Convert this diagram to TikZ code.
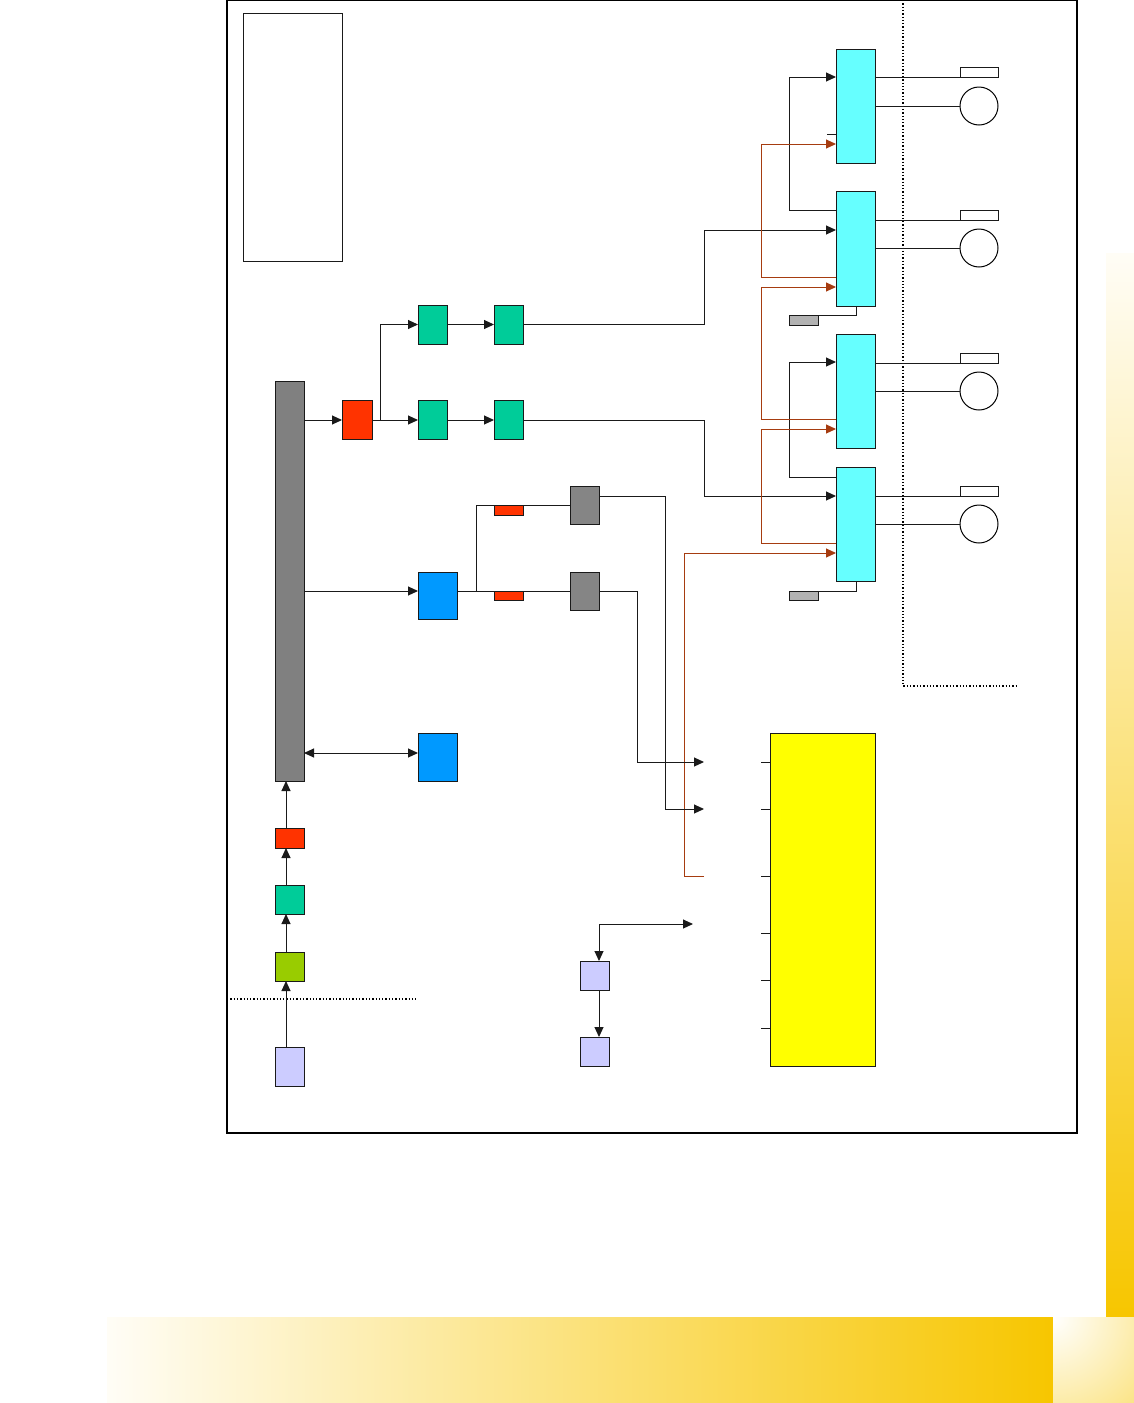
\documentclass[tikz,border=0pt]{standalone}
\usetikzlibrary{arrows.meta}
\definecolor{busgray}{HTML}{808080}
\definecolor{boxgray}{HTML}{858585}
\definecolor{ltgray}{HTML}{B2B2B2}
\definecolor{redbox}{HTML}{FF3300}
\definecolor{greenbox}{HTML}{00CC99}
\definecolor{cyanbox}{HTML}{66FFFF}
\definecolor{bluebox}{HTML}{0099FF}
\definecolor{yellowbox}{HTML}{FFFF00}
\definecolor{lavbox}{HTML}{CCCCFF}
\definecolor{ygbox}{HTML}{99CC00}
\definecolor{ln}{HTML}{1A1A1A}
\definecolor{orangeln}{HTML}{A63C10}
\definecolor{gold}{HTML}{F7C600}
\definecolor{pale}{HTML}{FFFDF6}
\newcommand\mybox[6]{%
  \pgfmathsetmacro\mybxw{#4-#2}\pgfmathsetmacro\mybxh{#5-#3}%
  \pgfmathsetmacro\mybxcx{(#2+#4)/2}\pgfmathsetmacro\mybxcy{(#3+#5)/2}%
  \node[bxs,fill=#6,minimum width=\mybxw pt,minimum height=\mybxh pt] (#1) at (\mybxcx,\mybxcy) {};}
\begin{document}
\begin{tikzpicture}[x=1pt,y=-1pt,
  bxs/.style={draw=ln,line width=1pt,inner sep=0pt,outer sep=0pt,rectangle},
  wire/.style={draw=ln,line width=1pt},
  arr/.style={wire,-{Triangle[length=10pt,width=9pt]}},
  darr/.style={wire,{Triangle[length=10pt,width=9pt]}-{Triangle[length=10pt,width=9pt]}},
  owire/.style={draw=orangeln,line width=1pt},
  oarr/.style={owire,-{Triangle[length=10pt,width=9pt]}},
  dotline/.style={draw=black,line width=1.3pt,dotted}]
\useasboundingbox (0,0) rectangle (1134,1403);
\fill[white] (0,0) rectangle (1134,1403);
% decorative gradients
\shade[top color=pale,bottom color=gold] (1106,253) rectangle (1134,1317);
\shade[left color=pale,right color=gold] (107,1317) rectangle (1053,1403);
\begin{scope}
\clip (1053,1317) rectangle (1134,1403);
\fill[gold] (1053,1317) rectangle (1134,1403);
\shade[inner color=white,outer color=gold] (1053,1317) circle (250);
\end{scope}
% frame
\draw[black,line width=1.2pt] (227,0.6) rectangle (1077,1133);
% boxes
\mybox{legend}{243}{13}{342}{261}{white}
\mybox{bus}{275}{381}{304}{781}{busgray}
\mybox{red1}{342}{400}{372}{439}{redbox}
\mybox{g1a}{418}{305}{447}{344}{greenbox}
\mybox{g1b}{494}{305}{523}{344}{greenbox}
\mybox{g2a}{418}{400}{447}{439}{greenbox}
\mybox{g2b}{494}{400}{523}{439}{greenbox}
\mybox{c1}{836}{49}{875}{163}{cyanbox}
\mybox{c2}{836}{191}{875}{306}{cyanbox}
\mybox{c3}{836}{334}{875}{448}{cyanbox}
\mybox{c4}{836}{467}{875}{581}{cyanbox}
\mybox{r1}{960}{67}{998}{77}{white}
\mybox{r2}{960}{210}{998}{220}{white}
\mybox{r3}{960}{353}{998}{363}{white}
\mybox{r4}{960}{486}{998}{496}{white}
\foreach \i/\y in {1/106,2/248,3/391,4/524}
  \node[circle,draw=black,line width=1pt,minimum size=38pt,inner sep=0pt,outer sep=0pt,fill=white] (o\i) at (979,\y) {};
\mybox{gr1}{789}{315}{818}{325}{ltgray}
\mybox{gr2}{789}{591}{818}{600}{ltgray}
\mybox{blue1}{418}{572}{457}{619}{bluebox}
\mybox{blue2}{418}{733}{457}{781}{bluebox}
\mybox{sr1}{494}{505}{523}{515}{redbox}
\mybox{sr2}{494}{591}{523}{600}{redbox}
\mybox{gb1}{570}{486}{599}{524}{boxgray}
\mybox{gb2}{570}{572}{599}{610}{boxgray}
\mybox{yel}{770}{733}{875}{1066}{yellowbox}
\mybox{lav1}{580}{961}{609}{990}{lavbox}
\mybox{lav2}{580}{1037}{609}{1066}{lavbox}
\mybox{cred}{275}{828}{304}{848}{redbox}
\mybox{cgrn}{275}{885}{304}{914}{greenbox}
\mybox{cyg}{275}{952}{304}{981}{ygbox}
\mybox{clav}{275}{1047}{304}{1086}{lavbox}
% free connector ends
\coordinate (in1) at (704,762);
\coordinate (in2) at (704,809);
\coordinate (in3) at (704,876);
\coordinate (in4) at (693,924);
% dotted boundaries
\draw[dotline] (903,0) -- (903,686) -- (1017,686);
\draw[dotline] (227,999) -- (417,999);
% upper chain
\draw[arr] (bus.east |- 0,420) -- (red1.west |- 0,420);
\draw[arr] (red1.east |- 0,420) -- (g2a.west |- 0,420);
\draw[arr] (red1.east |- 0,420) -- (380,420) |- (g1a.west);
\draw[arr] (g1a.east) -- (g1b.west);
\draw[arr] (g2a.east |- 0,420) -- (g2b.west |- 0,420);
\draw[arr] (g1b.east) -| (704,230) -- (c2.west |- 0,230);
\draw[arr] (g2b.east |- 0,420) -| (704,496) -- (c4.west |- 0,496);
% cyan interconnections
\draw[arr] (c2.west |- 0,210) -- (789,210) -- (789,77) -- (c1.west |- 0,77);
\draw[arr] (c4.west |- 0,477) -- (789,477) -- (789,362) -- (c3.west |- 0,362);
\draw[wire] (827,134) -- (c1.west |- 0,134);
\draw[oarr] (c2.west |- 0,277) -- (761,277) -- (761,144) -- (c1.west |- 0,144);
\draw[oarr] (c3.west |- 0,419) -- (761,419) -- (761,287) -- (c2.west |- 0,287);
\draw[oarr] (c4.west |- 0,543) -- (761,543) -- (761,429) -- (c3.west |- 0,429);
\draw[oarr] (in3) -- (684,876) -- (684,553) -- (c4.west |- 0,553);
% right side
\foreach \i/\ya/\yb in {1/77/106,2/220/248,3/363/391,4/496/524}{
  \draw[wire] (c\i.east |- 0,\ya) -- (r\i.south west);
  \draw[wire] (c\i.east |- 0,\yb) -- (o\i.west);
}
\draw[wire] (856,306) -- (856,315) -- (gr1.north east);
\draw[wire] (856,581) -- (856,591) -- (gr2.north east);
% middle
\draw[arr] (bus.east |- 0,591) -- (blue1.west |- 0,591);
\draw[wire] (blue1.east |- 0,591) -- (gb2.west |- 0,591);
\draw[wire] (476,591) |- (gb1.west);
\draw[arr] (gb1.east |- 0,496) -- (665,496) |- (in2);
\draw[arr] (gb2.east |- 0,591) -- (637,591) |- (in1);
\draw[darr] (bus.east |- 0,753) -- (blue2.west |- 0,753);
% yellow ticks
\foreach \y in {762,809,876,933,980,1028}
  \draw[wire] (761,\y) -- (yel.west |- 0,\y);
% lavender pair
\draw[darr] (in4) -| ([xshift=4.5pt]lav1.north);
\draw[arr] ([xshift=4.5pt]lav1.south) -- ([xshift=4.5pt]lav2.north);
% lower chain
\draw[arr] ([xshift=-3.5pt]clav.north) -- ([xshift=-3.5pt]cyg.south);
\draw[arr] ([xshift=-3.5pt]cyg.north) -- ([xshift=-3.5pt]cgrn.south);
\draw[arr] ([xshift=-3.5pt]cgrn.north) -- ([xshift=-3.5pt]cred.south);
\draw[arr] ([xshift=-3.5pt]cred.north) -- ([xshift=-3.5pt]bus.south);
\end{tikzpicture}
\end{document}
